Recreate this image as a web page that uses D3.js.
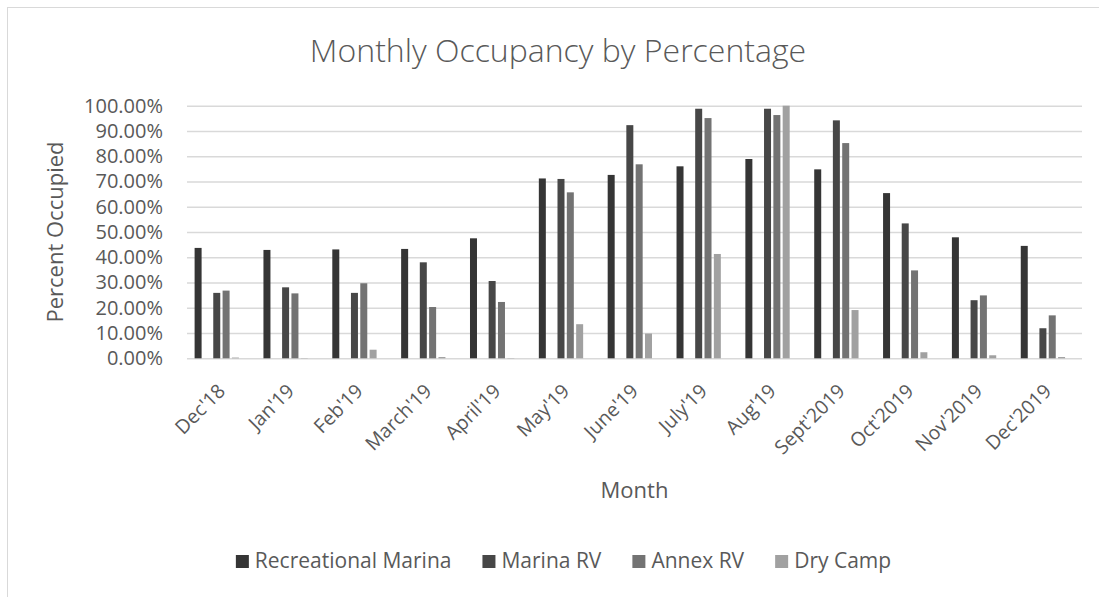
<!DOCTYPE html>
<html>
<head>
<meta charset="utf-8">
<script src="https://cdn.jsdelivr.net/npm/d3@7"></script>
<style>
  body { margin: 0; background: #fff; }
  svg { display: block; font-family: "Open Sans", sans-serif; }
</style>
</head>
<body>
<svg id="chart"></svg>
<script>
var screen = {width: 1099, height: 597};
var plot = {left: 187, right: 1082, top: 105.7, bottom: 358.3};

// data (fractions of 1)
var months = ["Dec'18", "Jan'19", "Feb'19", "March'19", "April'19", "May'19", "June'19",
              "July'19", "Aug'19", "Sept'2019", "Oct'2019", "Nov'2019", "Dec'2019"];
var seriesNames = ["Recreational Marina", "Marina RV", "Annex RV", "Dry Camp"];
var recMarina = [0.437, 0.429, 0.431, 0.433, 0.475, 0.712, 0.726, 0.760, 0.789, 0.748, 0.654, 0.479, 0.445];
var marinaRV  = [0.259, 0.281, 0.259, 0.380, 0.306, 0.710, 0.923, 0.988, 0.988, 0.942, 0.534, 0.230, 0.119];
var annexRV   = [0.268, 0.257, 0.297, 0.203, 0.223, 0.657, 0.768, 0.951, 0.963, 0.852, 0.348, 0.249, 0.170];
var dryCamp   = [0.003, 0.001, 0.034, 0.005, 0.001, 0.135, 0.098, 0.413, 1.000, 0.191, 0.024, 0.012, 0.005];
var yTicks = [0, 0.1, 0.2, 0.3, 0.4, 0.5, 0.6, 0.7, 0.8, 0.9, 1.0];

var seriesValues = [recMarina, marinaRV, annexRV, dryCamp];
var colors = ["#353535", "#474747", "#737373", "#a1a1a1"];
// the original keeps two empty series slots in each group
var slots = ["Recreational Marina", "blank1", "Marina RV", "Annex RV", "Dry Camp", "blank2"];

var svg = d3.select("#chart")
    .attr("width", screen.width)
    .attr("height", screen.height);

// chart frame (cut off at right/bottom in the original)
svg.append("rect")
    .attr("x", 7.5).attr("y", 7.5)
    .attr("width", 1200).attr("height", 700)
    .attr("fill", "none")
    .attr("stroke", "#d9d9d9")
    .attr("stroke-width", 1);

var xScale = d3.scaleBand()
    .domain(months)
    .range([plot.left, plot.right]);

var inner = d3.scaleBand()
    .domain(slots)
    .range([0, xScale.bandwidth()])
    .paddingInner(0.25)
    .paddingOuter(0.815);

var yScale = d3.scaleLinear()
    .domain([0, 1])
    .range([plot.bottom, plot.top]);

var cScale = d3.scaleOrdinal().domain(seriesNames).range(colors);

// gridlines + y labels
var yAxis = d3.axisLeft(yScale)
    .tickValues(yTicks)
    .tickFormat(d3.format(".2%"))
    .tickSize(-(plot.right - plot.left))
    .tickPadding(24);

var yg = svg.append("g")
    .attr("id", "yAxis")
    .attr("transform", "translate(" + plot.left + ",0)")
    .call(yAxis);
yg.select(".domain").remove();
yg.selectAll(".tick line").attr("stroke", "#d9d9d9").attr("stroke-width", 1.5);
yg.selectAll(".tick text")
    .attr("fill", "#595959")
    .style("font-size", "20px")
    .style("font-family", "'Open Sans', sans-serif");

// bars
var rows = [];
seriesNames.forEach(function(name, s) {
    months.forEach(function(m, i) {
        rows.push({series: name, month: m, value: seriesValues[s][i]});
    });
});

svg.append("g")
    .attr("id", "bars")
    .selectAll("rect")
    .data(rows)
    .enter()
    .append("rect")
    .attr("x", function(d) { return xScale(d.month) + inner(d.series); })
    .attr("y", function(d) { return yScale(d.value); })
    .attr("width", inner.bandwidth())
    .attr("height", function(d) { return yScale(0) - yScale(d.value); })
    .attr("fill", function(d) { return cScale(d.series); });

// x labels, rotated
var xAxis = d3.axisBottom(xScale).tickSize(0).tickPadding(0);
var xg = svg.append("g")
    .attr("id", "xAxis")
    .attr("transform", "translate(0," + plot.bottom + ")")
    .call(xAxis);
xg.select(".domain").remove();
xg.selectAll(".tick text")
    .attr("fill", "#595959")
    .style("font-size", "19.5px")
    .style("font-family", "'Open Sans', sans-serif")
    .attr("text-anchor", "end")
    .attr("dy", null)
    .attr("y", 0)
    .attr("transform", "translate(5,34) rotate(-45)");

// title
svg.append("text")
    .attr("x", 558)
    .attr("y", 62)
    .attr("text-anchor", "middle")
    .attr("fill", "#595959")
    .style("font-size", "32px")
    .style("font-weight", 300)
    .text("Monthly Occupancy by Percentage");

// axis titles
svg.append("text")
    .attr("transform", "translate(63," + ((plot.top + plot.bottom) / 2) + ") rotate(-90)")
    .attr("text-anchor", "middle")
    .attr("fill", "#595959")
    .style("font-size", "22px")
    .text("Percent Occupied");

svg.append("text")
    .attr("x", (plot.left + plot.right) / 2)
    .attr("y", 498)
    .attr("text-anchor", "middle")
    .attr("fill", "#595959")
    .style("font-size", "22px")
    .text("Month");

// legend
var legend = svg.append("g").attr("id", "legend");
var gs = legend.selectAll("g")
    .data(seriesNames)
    .enter()
    .append("g");

gs.append("rect")
    .attr("width", 13).attr("height", 13)
    .attr("y", -13)
    .attr("fill", function(d) { return cScale(d); });

gs.append("text")
    .attr("x", 19)
    .attr("y", 0)
    .attr("fill", "#595959")
    .style("font-size", "21px")
    .text(function(d) { return d; });

var gap = 31;
var pos = 0;
gs.each(function() {
    var w = 19 + d3.select(this).select("text").node().getComputedTextLength();
    d3.select(this).attr("transform", "translate(" + pos + ",0)");
    pos += w + gap;
});
var total = pos - gap;
legend.attr("transform", "translate(" + (563.5 - total / 2) + ",568)");
</script>
</body>
</html>
